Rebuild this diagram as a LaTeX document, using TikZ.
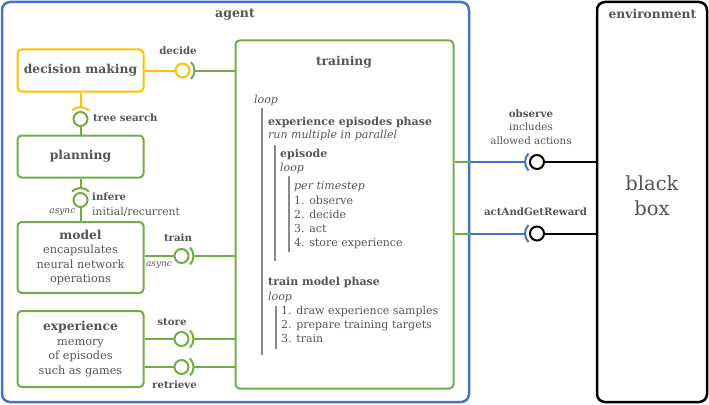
\documentclass[tikz,border=0pt]{standalone}
\usepackage{fontspec}
\setmainfont{DejaVu Serif}
\usetikzlibrary{calc}
\definecolor{ablue}{HTML}{4472C4}
\definecolor{agreen}{HTML}{70AD47}
\definecolor{ayellow}{HTML}{FFC000}
\definecolor{tgray}{HTML}{555555}
\definecolor{bgray}{HTML}{8A8A8A}
\newcommand{\boxtitle}[1]{{\bfseries\fontsize{12.3}{14.4}\selectfont #1}}
\tikzset{
  fbox/.style={draw, line width=2pt, rounded corners=4pt, inner sep=0pt, text=tgray, align=center, font=\fontsize{11.3}{14.4}\selectfont},
  gline/.style={draw=agreen, line width=2pt},
  yline/.style={draw=ayellow, line width=2pt},
  bline/.style={draw=ablue, line width=2pt},
  kline/.style={draw=black, line width=2pt},
  sockc/.style={circle, draw=#1, fill=white, line width=2pt, minimum size=14pt, inner sep=0pt},
  lbl/.style={text=tgray, inner sep=0pt, font=\fontsize{10.8}{13}\selectfont},
  lblb/.style={text=tgray, inner sep=0pt, font=\bfseries\fontsize{10.2}{13}\selectfont},
  lbli/.style={text=tgray, inner sep=0pt, font=\itshape\fontsize{9}{12}\selectfont},
  tl/.style={text=tgray, inner sep=0pt, anchor=base west, font=\fontsize{11}{14}\selectfont},
  vbar/.style={draw=bgray, line width=1.5pt},
}
\begin{document}
\begin{tikzpicture}[x=1pt,y=-1pt]
\useasboundingbox (0,0) rectangle (709,404);
% containers
\node[fbox, draw=ablue, line width=2.5pt, rounded corners=8pt, minimum width=467pt, minimum height=400pt] (agent) at (235.5,202) {};
\node[text=tgray, font=\bfseries\fontsize{12.5}{14}\selectfont, inner sep=0pt] (agentlbl) at (235,15) {agent};
\node[fbox, draw=black, line width=2.5pt, rounded corners=8pt, minimum width=110pt, minimum height=400pt] (env) at (652,202) {};
\node[text=tgray, font=\bfseries\fontsize{12.3}{14}\selectfont, inner sep=0pt] (envlbl) at (652.5,14) {environment};
\node[text=tgray, font=\fontsize{19.5}{25}\selectfont, inner sep=0pt, align=center] (bb) at (652,196) {black\\box};
% boxes
\node[fbox, draw=ayellow, minimum width=126pt, minimum height=42pt] (dm) at (80.5,70.5) {\boxtitle{decision making}};
\node[fbox, draw=agreen, minimum width=126pt, minimum height=42pt] (plan) at (80.5,156.5) {\boxtitle{planning}};
\node[fbox, draw=agreen, minimum width=126pt, minimum height=71pt] (model) at (80.5,257.5) {\boxtitle{model}\\encapsulates\\neural network\\operations};
\node[fbox, draw=agreen, minimum width=126pt, minimum height=76pt] (exp) at (80.5,349) {\boxtitle{experience}\\memory\\of episodes\\such as games};
\node[fbox, draw=agreen, minimum width=218pt, minimum height=348pt] (training) at (344.5,214.5) {};
\node[text=tgray, font=\bfseries\fontsize{12.3}{14}\selectfont, inner sep=0pt] (traininglbl) at (344,62) {training};
% sockets
\node[sockc=ayellow] (decC) at (182.5,70.5) {};
\coordinate (decS) at (194.5,70.5);
\draw[yline] (dm.east |- decC) -- (decC);
\draw[gline] ([shift={(-45:12)}]decC.center) arc[start angle=-45,end angle=45,radius=12];
\draw[gline] (decS) -- (decS -| training.west);
\node[lblb] (declbl) at (178,51) {decide};

\node[sockc=agreen] (tsC) at (80.5,119) {};
\coordinate (tsS) at (80.5,107);
\draw[yline] (dm.south) -- (tsS);
\draw[yline] ([shift={(225:12)}]tsC.center) arc[start angle=225,end angle=315,radius=12];
\draw[gline] (tsC) -- (plan.north);
\node[lblb, anchor=west] (tslbl) at (93,118) {tree search};

\node[sockc=agreen] (infC) at (80.5,200) {};
\coordinate (infS) at (80.5,188);
\draw[gline] (plan.south) -- (infS);
\draw[gline] ([shift={(225:12)}]infC.center) arc[start angle=225,end angle=315,radius=12];
\draw[gline] (infC) -- (model.north);
\node[lblb, anchor=west] (inflbl) at (92,197) {infere};
\node[lbl, anchor=west] (inflbl2) at (92,211.5) {initial/recurrent};
\node[lbli, anchor=east] (asy1) at (75.5,212) {async};

\node[sockc=agreen] (trC) at (181.5,256) {};
\coordinate (trS) at (193.5,256);
\draw[gline] (model.east |- trC) -- (trC);
\draw[gline] ([shift={(-45:12)}]trC.center) arc[start angle=-45,end angle=45,radius=12];
\draw[gline] (trS) -- (trS -| training.west);
\node[lblb] (trlbl) at (178,238) {train};
\node[lbli] (asy2) at (159,265) {async};

\node[sockc=agreen] (stC) at (181.5,339) {};
\coordinate (stS) at (193.5,339);
\draw[gline] (exp.east |- stC) -- (stC);
\draw[gline] ([shift={(-45:12)}]stC.center) arc[start angle=-45,end angle=45,radius=12];
\draw[gline] (stS) -- (stS -| training.west);
\node[lblb] (stlbl) at (172,322) {store};

\node[sockc=agreen] (rtC) at (181.5,367) {};
\coordinate (rtS) at (193.5,367);
\draw[gline] (exp.east |- rtC) -- (rtC);
\draw[gline] ([shift={(-45:12)}]rtC.center) arc[start angle=-45,end angle=45,radius=12];
\draw[gline] (rtS) -- (rtS -| training.west);
\node[lblb] (rtlbl) at (174.5,385) {retrieve};

% environment interfaces
\node[sockc=black] (obsC) at (537,162) {};
\coordinate (obsS) at (525,162);
\draw[kline] (obsC) -- (obsC -| env.west);
\draw[bline] ([shift={(135:12)}]obsC.center) arc[start angle=135,end angle=225,radius=12];
\draw[bline] (obsS) -- (obsS -| agent.east);
\draw[gline] (obsS -| agent.east) -- (obsS -| training.east);
\node[lbl, align=center, font=\fontsize{10.3}{13.5}\selectfont] (obslbl) at (531,127) {\textbf{observe}\\includes\\allowed actions};

\node[sockc=black] (actC) at (537,233.5) {};
\coordinate (actS) at (525,233.5);
\draw[kline] (actC) -- (actC -| env.west);
\draw[bline] ([shift={(135:12)}]actC.center) arc[start angle=135,end angle=225,radius=12];
\draw[bline] (actS) -- (actS -| agent.east);
\draw[gline] (actS -| agent.east) -- (actS -| training.east);
\node[lblb] (actlbl) at (535.5,212) {actAndGetReward};

% training content
\node[tl] (t1) at (254,103) {\itshape loop};
\draw[vbar] (262,108) -- (262,355);
\node[tl] (t2) at (268,125) {\bfseries experience episodes phase};
\node[tl] (t3) at (268,138) {\itshape run multiple in parallel};
\draw[vbar] (275,145) -- (275,261);
\node[tl] (t4) at (280,157) {\bfseries episode};
\node[tl] (t5) at (280,171) {\itshape loop};
\draw[vbar] (289,176) -- (289,252);
\node[tl] (t6) at (294,189) {\itshape per timestep};
\node[tl] (t7) at (294,204) {1. observe};
\node[tl] (t8) at (294,218) {2. decide};
\node[tl] (t9) at (294,232) {3. act};
\node[tl] (t10) at (294,246) {4. store experience};
\node[tl] (t11) at (268,285) {\bfseries train model phase};
\node[tl] (t12) at (268,300) {\itshape loop};
\draw[vbar] (276,306) -- (276,349);
\node[tl] (t13) at (281,314) {1. draw experience samples};
\node[tl] (t14) at (281,328) {2. prepare training targets};
\node[tl] (t15) at (281,342) {3. train};
\end{tikzpicture}
\end{document}
